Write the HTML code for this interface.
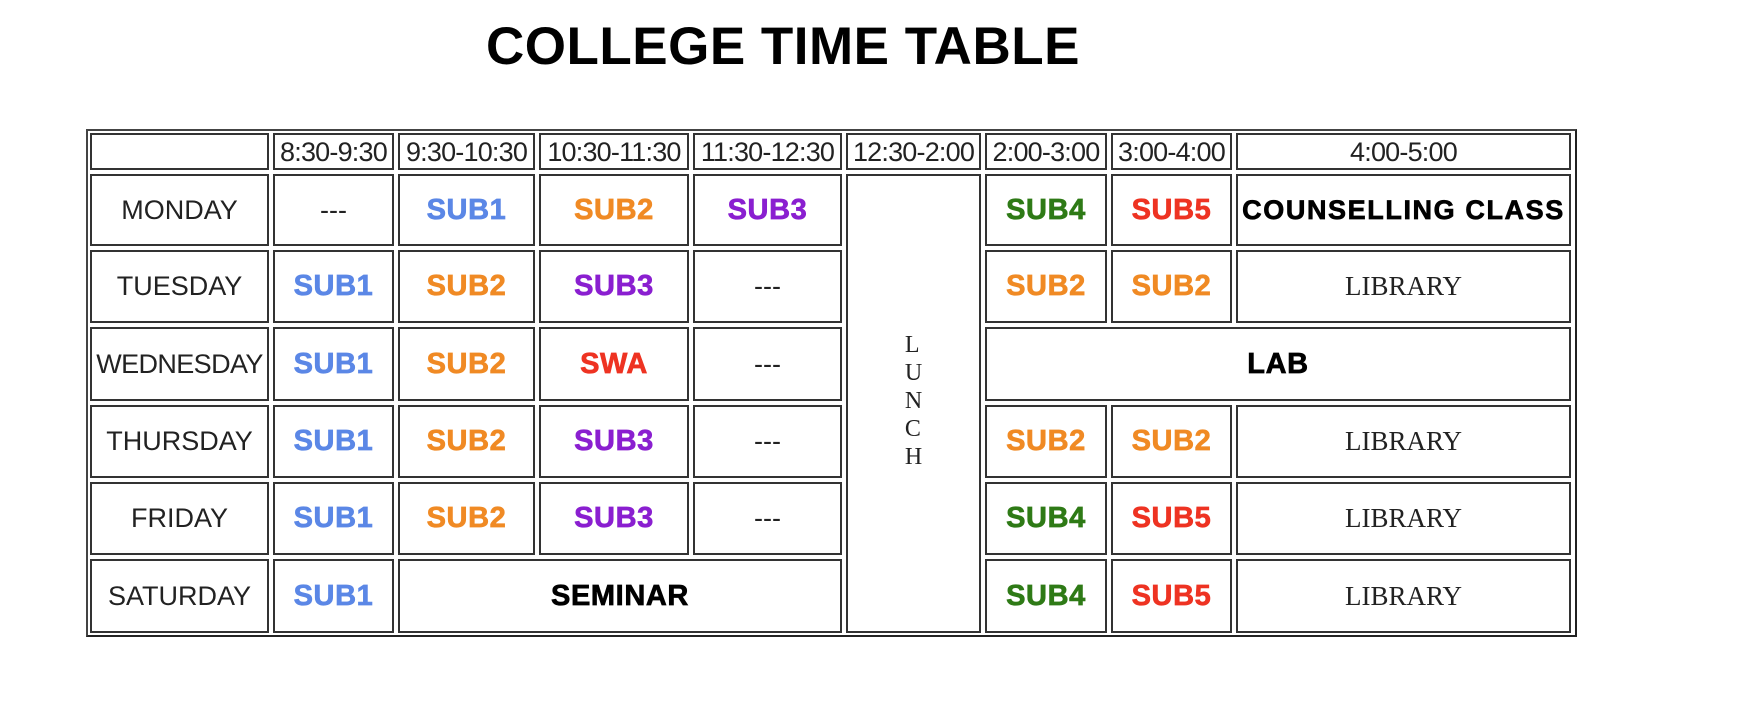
<!DOCTYPE html>
<html><head><meta charset="utf-8"><style>
body{margin:0;width:1756px;height:716px;background:#fff;position:relative;overflow:hidden;font-family:"Liberation Sans",Arial,sans-serif}
h1{position:absolute;left:0;top:16px;width:1566px;text-align:center;margin:0;font-size:53px;font-weight:bold;color:#000;letter-spacing:0.5px}
.t{position:absolute;left:86px;top:129px;width:1491px;height:508px;box-sizing:border-box;border:2px solid #444;border-right-color:#222;border-bottom-color:#222}
.c{position:absolute;box-sizing:border-box;border:2px solid #333;display:flex;align-items:center;justify-content:center;color:#222;font-size:27px;white-space:nowrap;overflow:visible}
.h{font-size:27px;letter-spacing:-0.8px;padding-top:2px}
.s{font-weight:900;font-size:29px;letter-spacing:0.6px;-webkit-text-stroke:0.7px currentColor}
.k{color:#000}
.l{font-family:"Liberation Serif",serif;font-size:27px}
.b1{color:#5b87e6}.b2{color:#f08a24}.b3{color:#8a1fd0}.b4{color:#2e7a16}.b5{color:#ee3322}
</style></head><body>
<h1>COLLEGE TIME TABLE</h1>
<div class="t"></div>
<!-- header -->
<div class="c h" style="left:90px;top:133px;width:179px;height:37px"></div>
<div class="c h" style="left:273px;top:133px;width:121px;height:37px">8:30-9:30</div>
<div class="c h" style="left:398px;top:133px;width:137px;height:37px">9:30-10:30</div>
<div class="c h" style="left:539px;top:133px;width:150px;height:37px">10:30-11:30</div>
<div class="c h" style="left:693px;top:133px;width:149px;height:37px">11:30-12:30</div>
<div class="c h" style="left:846px;top:133px;width:135px;height:37px">12:30-2:00</div>
<div class="c h" style="left:985px;top:133px;width:122px;height:37px">2:00-3:00</div>
<div class="c h" style="left:1111px;top:133px;width:121px;height:37px">3:00-4:00</div>
<div class="c h" style="left:1236px;top:133px;width:335px;height:37px">4:00-5:00</div>
<!-- lunch -->
<div class="c l" style="left:846px;top:174px;width:135px;height:459px;flex-direction:column;line-height:28px;font-size:24px;padding-bottom:6px">L<br>U<br>N<br>C<br>H</div>
<!-- monday -->
<div class="c" style="left:90px;top:174px;width:179px;height:72px">MONDAY</div>
<div class="c" style="left:273px;top:174px;width:121px;height:72px">---</div>
<div class="c s b1" style="left:398px;top:174px;width:137px;height:72px">SUB1</div>
<div class="c s b2" style="left:539px;top:174px;width:150px;height:72px">SUB2</div>
<div class="c s b3" style="left:693px;top:174px;width:149px;height:72px">SUB3</div>
<div class="c s b4" style="left:985px;top:174px;width:122px;height:72px">SUB4</div>
<div class="c s b5" style="left:1111px;top:174px;width:121px;height:72px">SUB5</div>
<div class="c s k" style="left:1236px;top:174px;width:335px;height:72px;font-size:27px;letter-spacing:1.6px">COUNSELLING CLASS</div>
<!-- tuesday -->
<div class="c" style="left:90px;top:250px;width:179px;height:73px">TUESDAY</div>
<div class="c s b1" style="left:273px;top:250px;width:121px;height:73px">SUB1</div>
<div class="c s b2" style="left:398px;top:250px;width:137px;height:73px">SUB2</div>
<div class="c s b3" style="left:539px;top:250px;width:150px;height:73px">SUB3</div>
<div class="c" style="left:693px;top:250px;width:149px;height:73px">---</div>
<div class="c s b2" style="left:985px;top:250px;width:122px;height:73px">SUB2</div>
<div class="c s b2" style="left:1111px;top:250px;width:121px;height:73px">SUB2</div>
<div class="c l" style="left:1236px;top:250px;width:335px;height:73px">LIBRARY</div>
<!-- wednesday -->
<div class="c" style="left:90px;top:327px;width:179px;height:74px;letter-spacing:-0.6px">WEDNESDAY</div>
<div class="c s b1" style="left:273px;top:327px;width:121px;height:74px">SUB1</div>
<div class="c s b2" style="left:398px;top:327px;width:137px;height:74px">SUB2</div>
<div class="c s b5" style="left:539px;top:327px;width:150px;height:74px">SWA</div>
<div class="c" style="left:693px;top:327px;width:149px;height:74px">---</div>
<div class="c s k" style="left:985px;top:327px;width:586px;height:74px">LAB</div>
<!-- thursday -->
<div class="c" style="left:90px;top:405px;width:179px;height:73px">THURSDAY</div>
<div class="c s b1" style="left:273px;top:405px;width:121px;height:73px">SUB1</div>
<div class="c s b2" style="left:398px;top:405px;width:137px;height:73px">SUB2</div>
<div class="c s b3" style="left:539px;top:405px;width:150px;height:73px">SUB3</div>
<div class="c" style="left:693px;top:405px;width:149px;height:73px">---</div>
<div class="c s b2" style="left:985px;top:405px;width:122px;height:73px">SUB2</div>
<div class="c s b2" style="left:1111px;top:405px;width:121px;height:73px">SUB2</div>
<div class="c l" style="left:1236px;top:405px;width:335px;height:73px">LIBRARY</div>
<!-- friday -->
<div class="c" style="left:90px;top:482px;width:179px;height:73px">FRIDAY</div>
<div class="c s b1" style="left:273px;top:482px;width:121px;height:73px">SUB1</div>
<div class="c s b2" style="left:398px;top:482px;width:137px;height:73px">SUB2</div>
<div class="c s b3" style="left:539px;top:482px;width:150px;height:73px">SUB3</div>
<div class="c" style="left:693px;top:482px;width:149px;height:73px">---</div>
<div class="c s b4" style="left:985px;top:482px;width:122px;height:73px">SUB4</div>
<div class="c s b5" style="left:1111px;top:482px;width:121px;height:73px">SUB5</div>
<div class="c l" style="left:1236px;top:482px;width:335px;height:73px">LIBRARY</div>
<!-- saturday -->
<div class="c" style="left:90px;top:559px;width:179px;height:74px">SATURDAY</div>
<div class="c s b1" style="left:273px;top:559px;width:121px;height:74px">SUB1</div>
<div class="c s k" style="left:398px;top:559px;width:444px;height:74px">SEMINAR</div>
<div class="c s b4" style="left:985px;top:559px;width:122px;height:74px">SUB4</div>
<div class="c s b5" style="left:1111px;top:559px;width:121px;height:74px">SUB5</div>
<div class="c l" style="left:1236px;top:559px;width:335px;height:74px">LIBRARY</div>
</body></html>
